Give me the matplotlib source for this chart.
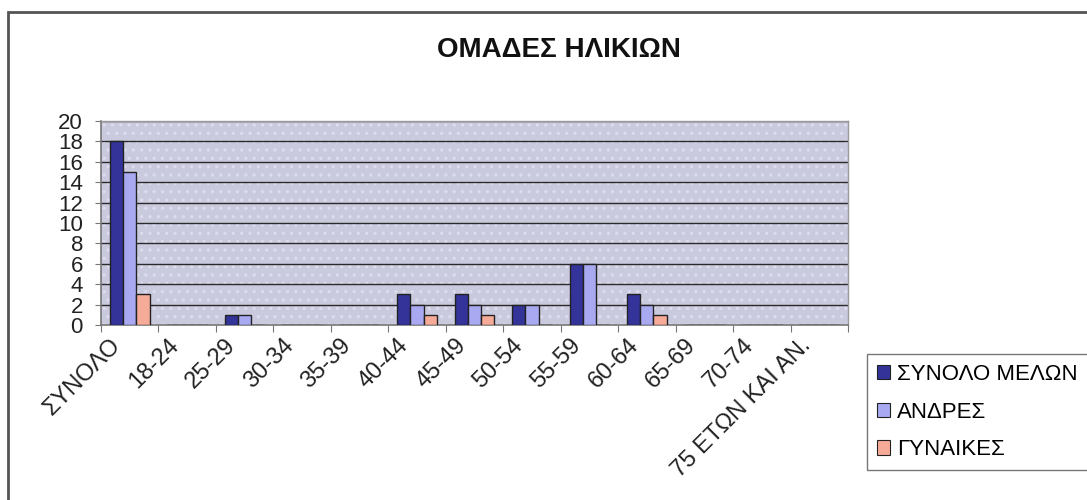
import matplotlib
matplotlib.use("Agg")
import matplotlib.pyplot as plt
import matplotlib.transforms as mtransforms
import numpy as np
from matplotlib.patches import Rectangle, Patch

plt.rcParams['font.family'] = ['Liberation Sans', 'DejaVu Sans']
plt.rcParams['hatch.linewidth'] = 1.2

categories = ["ΣΥΝΟΛΟ", "18-24", "25-29", "30-34", "35-39", "40-44", "45-49",
              "50-54", "55-59", "60-64", "65-69", "70-74", "75 ΕΤΩΝ ΚΑΙ ΑΝ."]
total = [18, 0, 1, 0, 0, 3, 3, 2, 6, 3, 0, 0, 0]
men = [15, 0, 1, 0, 0, 2, 2, 2, 6, 2, 0, 0, 0]
women = [3, 0, 0, 0, 0, 1, 1, 0, 0, 1, 0, 0, 0]
series_names = ["ΣΥΝΟΛΟ ΜΕΛΩΝ", "ΑΝΔΡΕΣ", "ΓΥΝΑΙΚΕΣ"]
title = "ΟΜΑΔΕΣ ΗΛΙΚΙΩΝ"
yticks = list(range(0, 21, 2))

colors = ["#333399", "#a9a9f2", "#f6aa98"]

W, H = 1087, 500
fig = plt.figure(figsize=(W / 100, H / 100), dpi=100)
fig.patch.set_facecolor("white")

# outer chart frame
fig.patches.append(Rectangle((8 / W, -0.05), 1.2, 1 - 12 / H + 0.05,
                             transform=fig.transFigure, fill=False,
                             edgecolor="#555555", linewidth=2))

left, right, top, bottom = 101, 848, 121, 325
ax = fig.add_axes([left / W, 1 - bottom / H, (right - left) / W, (bottom - top) / H])
ax.set_facecolor("#cacadf")
ax.add_patch(Rectangle((0, 0), 1, 1, transform=ax.transAxes, facecolor="none",
                       edgecolor="#dcdcee", hatch="..", linewidth=0, zorder=1))

x = np.arange(len(categories))
bw = 0.23
for i, (vals, c) in enumerate(zip([total, men, women], colors)):
    ax.bar(x + (i - 1) * bw, vals, width=bw, color=c, edgecolor="#222222",
           linewidth=1.0, zorder=3, label=series_names[i])

ax.set_xlim(-0.5, len(categories) - 0.5)
ax.set_ylim(0, 20)
ax.set_yticks(yticks)
ax.set_yticklabels([str(v) for v in yticks], fontsize=16, color="#222222")
for v in yticks[1:]:
    ax.axhline(v, color="#2a2a2a", linewidth=1.0, zorder=2)

# category labels (rotated, anchored slightly left of the category centre)
ax.set_xticks(np.arange(-0.5, len(categories), 1))
ax.set_xticklabels([])
ax.tick_params(axis="x", length=5, color="#777777", direction="out")
lab_tr = ax.get_xaxis_transform() + mtransforms.ScaledTranslation(
    -12 / 100, -17 / 100, fig.dpi_scale_trans)
for xi, name in zip(x, categories):
    ax.text(xi, 0, name, transform=lab_tr, rotation=45, ha="right", va="center",
            rotation_mode="anchor", fontsize=17, color="#222222", clip_on=False)

ax.tick_params(axis="y", length=4, color="#777777", pad=9)

for s in ["left", "bottom"]:
    ax.spines[s].set_color("#777777")
    ax.spines[s].set_linewidth(1.2)
for s in ["top", "right"]:
    ax.spines[s].set_color("#9a9a9a")
    ax.spines[s].set_linewidth(1.0)

fig.text(559 / W, 1 - 50 / H, title, ha="center", va="center",
         fontsize=20, fontweight="bold", color="#111111")

handles = [Patch(facecolor=c, edgecolor="#222222", linewidth=0.8) for c in colors]
leg = fig.legend(handles, series_names, loc="upper left",
                 bbox_to_anchor=(867 / W, 1 - 354 / H), fontsize=16,
                 frameon=True, fancybox=False, edgecolor="#555555",
                 handlelength=0.6, handleheight=0.6, handletextpad=0.3,
                 labelspacing=0.75, borderpad=0.45, borderaxespad=0)
leg.get_frame().set_linewidth(1.0)

fig.savefig("out.png", dpi=100, facecolor="white")
